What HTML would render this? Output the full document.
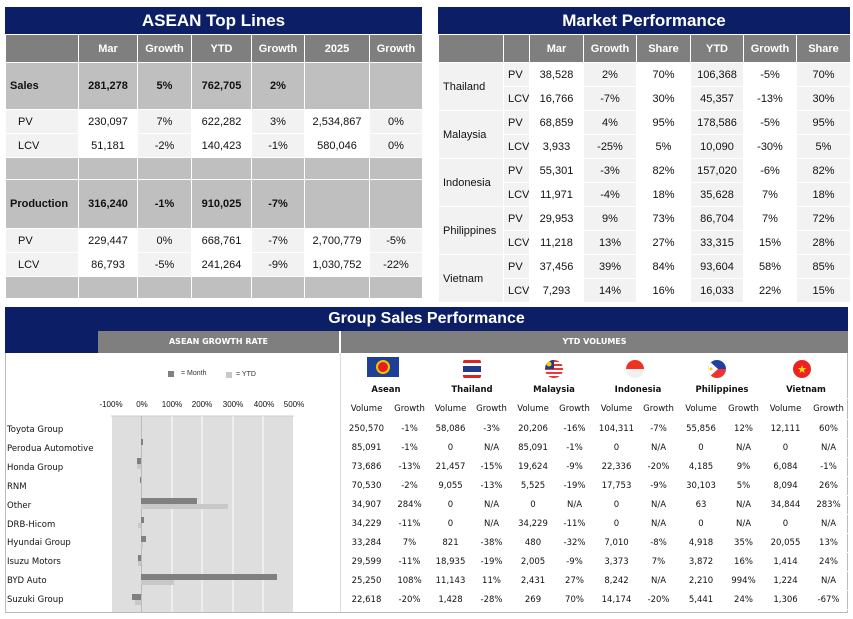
<!DOCTYPE html>
<html><head><meta charset="utf-8"><style>
*{margin:0;padding:0;box-sizing:border-box}
body{width:853px;height:619px;background:#fff;position:relative;font-family:"Liberation Sans",sans-serif;overflow:hidden}
.title{position:absolute;background:#0c1f66;color:#fff;font-weight:bold;font-size:17px;text-align:center}
table{position:absolute;border-collapse:collapse;table-layout:fixed;font-size:11px}
td{border:1px solid #fff;text-align:center;color:#111;padding:0;white-space:nowrap;overflow:hidden}
.h td{background:#7f7f7f;color:#fff;font-weight:bold}
.s td{background:#bfbfbf;font-weight:bold}
td.g{background:#f2f2f2}
td.w{background:#fff}
td.l{text-align:left;padding-left:4px}
td.l2{text-align:left;padding-left:12px}
.abs{position:absolute;font-family:"DejaVu Sans",sans-serif;font-size:8.5px;color:#111;white-space:nowrap}
.c{transform:translateX(-50%);text-align:center}
.b{font-weight:bold}
</style></head><body>

<div class="title" style="left:5px;top:7px;width:417px;height:28px;line-height:28px">ASEAN Top Lines</div>
<table style="left:5px;top:34px;width:417px">
<colgroup><col style="width:73px"><col style="width:59px"><col style="width:54px"><col style="width:60px"><col style="width:53px"><col style="width:65px"><col style="width:53px"></colgroup>
<tr class="h" style="height:28px"><td></td><td>Mar</td><td>Growth</td><td>YTD</td><td>Growth</td><td>2025</td><td>Growth</td></tr>
<tr class="s" style="height:47px"><td class="l">Sales</td><td>281,278</td><td>5%</td><td>762,705</td><td>2%</td><td></td><td></td></tr>
<tr style="height:24px"><td class="g l2">PV</td><td class="w">230,097</td><td class="g">7%</td><td class="w">622,282</td><td class="g">3%</td><td class="w">2,534,867</td><td class="g">0%</td></tr>
<tr style="height:24px"><td class="g l2">LCV</td><td class="w">51,181</td><td class="g">-2%</td><td class="w">140,423</td><td class="g">-1%</td><td class="w">580,046</td><td class="g">0%</td></tr>
<tr class="s" style="height:22px"><td></td><td></td><td></td><td></td><td></td><td></td><td></td></tr>
<tr class="s" style="height:49px"><td class="l">Production</td><td>316,240</td><td>-1%</td><td>910,025</td><td>-7%</td><td></td><td></td></tr>
<tr style="height:24px"><td class="g l2">PV</td><td class="w">229,447</td><td class="g">0%</td><td class="w">668,761</td><td class="g">-7%</td><td class="w">2,700,779</td><td class="g">-5%</td></tr>
<tr style="height:24px"><td class="g l2">LCV</td><td class="w">86,793</td><td class="g">-5%</td><td class="w">241,264</td><td class="g">-9%</td><td class="w">1,030,752</td><td class="g">-22%</td></tr>
<tr class="s" style="height:22px"><td></td><td></td><td></td><td></td><td></td><td></td><td></td></tr>
</table>

<div class="title" style="left:438px;top:7px;width:412px;height:28px;line-height:28px">Market Performance</div>
<table style="left:438px;top:34px;width:412px">
<colgroup><col style="width:65px"><col style="width:26px"><col style="width:54px"><col style="width:53px"><col style="width:54px"><col style="width:53px"><col style="width:53px"><col style="width:54px"></colgroup>
<tr class="h" style="height:28px"><td></td><td></td><td>Mar</td><td>Growth</td><td>Share</td><td>YTD</td><td>Growth</td><td>Share</td></tr>
<tr style="height:24px"><td class="g l" rowspan="2">Thailand</td><td class="g l">PV</td><td class="w">38,528</td><td class="g">2%</td><td class="w">70%</td><td class="g">106,368</td><td class="w">-5%</td><td class="g">70%</td></tr>
<tr style="height:24px"><td class="g l">LCV</td><td class="w">16,766</td><td class="g">-7%</td><td class="w">30%</td><td class="g">45,357</td><td class="w">-13%</td><td class="g">30%</td></tr>
<tr style="height:24px"><td class="g l" rowspan="2">Malaysia</td><td class="g l">PV</td><td class="w">68,859</td><td class="g">4%</td><td class="w">95%</td><td class="g">178,586</td><td class="w">-5%</td><td class="g">95%</td></tr>
<tr style="height:24px"><td class="g l">LCV</td><td class="w">3,933</td><td class="g">-25%</td><td class="w">5%</td><td class="g">10,090</td><td class="w">-30%</td><td class="g">5%</td></tr>
<tr style="height:24px"><td class="g l" rowspan="2">Indonesia</td><td class="g l">PV</td><td class="w">55,301</td><td class="g">-3%</td><td class="w">82%</td><td class="g">157,020</td><td class="w">-6%</td><td class="g">82%</td></tr>
<tr style="height:24px"><td class="g l">LCV</td><td class="w">11,971</td><td class="g">-4%</td><td class="w">18%</td><td class="g">35,628</td><td class="w">7%</td><td class="g">18%</td></tr>
<tr style="height:24px"><td class="g l" rowspan="2">Philippines</td><td class="g l">PV</td><td class="w">29,953</td><td class="g">9%</td><td class="w">73%</td><td class="g">86,704</td><td class="w">7%</td><td class="g">72%</td></tr>
<tr style="height:24px"><td class="g l">LCV</td><td class="w">11,218</td><td class="g">13%</td><td class="w">27%</td><td class="g">33,315</td><td class="w">15%</td><td class="g">28%</td></tr>
<tr style="height:24px"><td class="g l" rowspan="2">Vietnam</td><td class="g l">PV</td><td class="w">37,456</td><td class="g">39%</td><td class="w">84%</td><td class="g">93,604</td><td class="w">58%</td><td class="g">85%</td></tr>
<tr style="height:24px"><td class="g l">LCV</td><td class="w">7,293</td><td class="g">14%</td><td class="w">16%</td><td class="g">16,033</td><td class="w">22%</td><td class="g">15%</td></tr>
</table>

<div class="title" style="left:5px;top:307px;width:843px;height:46px;line-height:24px;font-size:16px">Group Sales Performance</div>
<div style="position:absolute;left:98px;top:331px;width:750px;height:22px;background:#7f7f7f"></div>
<div style="position:absolute;left:339px;top:331px;width:2px;height:22px;background:#fff"></div>
<div class="abs b" style="left:98px;top:337px;width:241px;text-align:center;color:#fff;font-size:8px">ASEAN GROWTH RATE</div>
<div class="abs b" style="left:341px;top:337px;width:507px;text-align:center;color:#fff;font-size:8px">YTD VOLUMES</div>
<div style="position:absolute;left:5px;top:353px;width:843px;height:260px;border:1px solid #bbb;border-top:none"></div>
<div style="position:absolute;left:340px;top:353px;width:1px;height:259px;background:#ddd"></div>

<div style="position:absolute;left:168px;top:371px;width:6px;height:6px;background:#808080"></div>
<div class="abs" style="left:181px;top:370px;font-family:'Liberation Sans';font-size:7px;color:#333">= Month</div>
<div style="position:absolute;left:226px;top:372px;width:6px;height:6px;background:#c8c8c8"></div>
<div class="abs" style="left:236px;top:371px;font-family:'Liberation Sans';font-size:7px;color:#333">= YTD</div>

<div class="abs c" style="left:111px;top:400px;font-family:'Liberation Sans';font-size:8px">-100%</div>
<div class="abs c" style="left:142px;top:400px;font-family:'Liberation Sans';font-size:8px">0%</div>
<div class="abs c" style="left:172px;top:400px;font-family:'Liberation Sans';font-size:8px">100%</div>
<div class="abs c" style="left:202px;top:400px;font-family:'Liberation Sans';font-size:8px">200%</div>
<div class="abs c" style="left:233px;top:400px;font-family:'Liberation Sans';font-size:8px">300%</div>
<div class="abs c" style="left:264px;top:400px;font-family:'Liberation Sans';font-size:8px">400%</div>
<div class="abs c" style="left:294px;top:400px;font-family:'Liberation Sans';font-size:8px">500%</div>

<svg style="position:absolute;left:0;top:0" width="853" height="619">
<defs>
<clipPath id="c1"><circle cx="554" cy="369" r="9"/></clipPath>
<clipPath id="c2"><circle cx="717" cy="369" r="9"/></clipPath>
<clipPath id="c3"><rect x="463" y="360" width="18" height="18" rx="2"/></clipPath>
</defs>
<rect x="112" y="416" width="181" height="196" fill="#dedede"/>
<line x1="111" y1="416" x2="294" y2="416" stroke="#ccc"/>
<g stroke="#fff" stroke-width="1">
<line x1="172" y1="416" x2="172" y2="612"/><line x1="202" y1="416" x2="202" y2="612"/><line x1="233" y1="416" x2="233" y2="612"/><line x1="263" y1="416" x2="263" y2="612"/>
</g>
<line x1="141.5" y1="416" x2="141.5" y2="612" stroke="#bbb"/>
<g fill="#808080">
<rect x="141" y="439" width="2" height="6"/>
<rect x="137" y="458" width="4" height="6"/>
<rect x="140" y="477" width="1" height="6"/>
<rect x="141" y="498" width="56" height="6"/>
<rect x="141" y="517" width="3" height="6"/>
<rect x="141" y="536" width="5" height="6"/>
<rect x="138" y="555" width="3" height="6"/>
<rect x="141" y="574" width="136" height="6"/>
<rect x="132" y="594" width="9" height="6"/>
</g>
<g fill="#c8c8c8">
<rect x="137" y="464" width="4" height="5"/>
<rect x="141" y="504" width="87" height="5"/>
<rect x="138" y="523" width="3" height="5"/>
<rect x="141" y="542" width="2" height="5"/>
<rect x="138" y="561" width="3" height="5"/>
<rect x="141" y="580" width="33" height="5"/>
<rect x="135" y="600" width="6" height="5"/>
</g>
<rect x="367" y="357" width="32" height="20" fill="#1d3f94"/><circle cx="383" cy="367" r="6" fill="#e02020" stroke="#f2c200" stroke-width="2"/>
<g clip-path="url(#c3)"><rect x="463" y="360" width="18" height="18" fill="#fff"/><rect x="463" y="360" width="18" height="3" fill="#d22"/><rect x="463" y="366" width="18" height="6" fill="#223a8c"/><rect x="463" y="375" width="18" height="3" fill="#d22"/></g>
<g clip-path="url(#c1)"><rect x="545" y="360" width="18" height="18" fill="#fff"/><rect x="545" y="360" width="18" height="2" fill="#e33"/><rect x="545" y="364" width="18" height="2" fill="#e33"/><rect x="545" y="368" width="18" height="2" fill="#e33"/><rect x="545" y="372" width="18" height="2" fill="#e33"/><rect x="545" y="376" width="18" height="2" fill="#e33"/><rect x="545" y="360" width="9" height="9" fill="#223a8c"/><circle cx="549" cy="364" r="2.5" fill="#fc0"/></g>
<path d="M626 369 a9 9 0 0 1 18 0 z" fill="#e32"/><path d="M626 369 a9 9 0 0 0 18 0 z" fill="#f0f0f0"/>
<g clip-path="url(#c2)"><rect x="708" y="360" width="18" height="9" fill="#2040a0"/><rect x="708" y="369" width="18" height="9" fill="#e33"/><path d="M708 360 L718 369 L708 378 z" fill="#fff"/><circle cx="711" cy="369" r="1.5" fill="#fc0"/></g>
<circle cx="802" cy="369" r="9" fill="#e22"/><text x="802" y="373" font-size="11" fill="#ffde00" text-anchor="middle" font-family="DejaVu Sans">★</text>
</svg>

<div class="abs" style="left:7px;top:425px">Toyota Group</div>
<div class="abs" style="left:7px;top:444px">Perodua Automotive</div>
<div class="abs" style="left:7px;top:463px">Honda Group</div>
<div class="abs" style="left:7px;top:482px">RNM</div>
<div class="abs" style="left:7px;top:501px">Other</div>
<div class="abs" style="left:7px;top:520px">DRB-Hicom</div>
<div class="abs" style="left:7px;top:538px">Hyundai Group</div>
<div class="abs" style="left:7px;top:557px">Isuzu Motors</div>
<div class="abs" style="left:7px;top:576px">BYD Auto</div>
<div class="abs" style="left:7px;top:595px">Suzuki Group</div>

<div class="abs c b" style="left:386px;top:385px">Asean</div>
<div class="abs c b" style="left:472px;top:385px">Thailand</div>
<div class="abs c b" style="left:554px;top:385px">Malaysia</div>
<div class="abs c b" style="left:638px;top:385px">Indonesia</div>
<div class="abs c b" style="left:722px;top:385px">Philippines</div>
<div class="abs c b" style="left:806px;top:385px">Vietnam</div>

<table style="left:344px;top:398px;width:506px;font-family:'DejaVu Sans',sans-serif;font-size:8.5px">
<colgroup><col style="width:44px"><col style="width:42px"><col style="width:40px"><col style="width:42px"><col style="width:41px"><col style="width:42px"><col style="width:42px"><col style="width:42px"><col style="width:43px"><col style="width:42px"><col style="width:42px"><col style="width:44px"></colgroup>
<tr style="height:21px"><td>Volume</td><td>Growth</td><td>Volume</td><td>Growth</td><td>Volume</td><td>Growth</td><td>Volume</td><td>Growth</td><td>Volume</td><td>Growth</td><td>Volume</td><td>Growth</td></tr>
<tr style="height:19px"><td>250,570</td><td>-1%</td><td>58,086</td><td>-3%</td><td>20,206</td><td>-16%</td><td>104,311</td><td>-7%</td><td>55,856</td><td>12%</td><td>12,111</td><td>60%</td></tr>
<tr style="height:19px"><td>85,091</td><td>-1%</td><td>0</td><td>N/A</td><td>85,091</td><td>-1%</td><td>0</td><td>N/A</td><td>0</td><td>N/A</td><td>0</td><td>N/A</td></tr>
<tr style="height:19px"><td>73,686</td><td>-13%</td><td>21,457</td><td>-15%</td><td>19,624</td><td>-9%</td><td>22,336</td><td>-20%</td><td>4,185</td><td>9%</td><td>6,084</td><td>-1%</td></tr>
<tr style="height:19px"><td>70,530</td><td>-2%</td><td>9,055</td><td>-13%</td><td>5,525</td><td>-19%</td><td>17,753</td><td>-9%</td><td>30,103</td><td>5%</td><td>8,094</td><td>26%</td></tr>
<tr style="height:19px"><td>34,907</td><td>284%</td><td>0</td><td>N/A</td><td>0</td><td>N/A</td><td>0</td><td>N/A</td><td>63</td><td>N/A</td><td>34,844</td><td>283%</td></tr>
<tr style="height:19px"><td>34,229</td><td>-11%</td><td>0</td><td>N/A</td><td>34,229</td><td>-11%</td><td>0</td><td>N/A</td><td>0</td><td>N/A</td><td>0</td><td>N/A</td></tr>
<tr style="height:19px"><td>33,284</td><td>7%</td><td>821</td><td>-38%</td><td>480</td><td>-32%</td><td>7,010</td><td>-8%</td><td>4,918</td><td>35%</td><td>20,055</td><td>13%</td></tr>
<tr style="height:19px"><td>29,599</td><td>-11%</td><td>18,935</td><td>-19%</td><td>2,005</td><td>-9%</td><td>3,373</td><td>7%</td><td>3,872</td><td>16%</td><td>1,414</td><td>24%</td></tr>
<tr style="height:19px"><td>25,250</td><td>108%</td><td>11,143</td><td>11%</td><td>2,431</td><td>27%</td><td>8,242</td><td>N/A</td><td>2,210</td><td>994%</td><td>1,224</td><td>N/A</td></tr>
<tr style="height:19px"><td>22,618</td><td>-20%</td><td>1,428</td><td>-28%</td><td>269</td><td>70%</td><td>14,174</td><td>-20%</td><td>5,441</td><td>24%</td><td>1,306</td><td>-67%</td></tr>
</table>
</body></html>
